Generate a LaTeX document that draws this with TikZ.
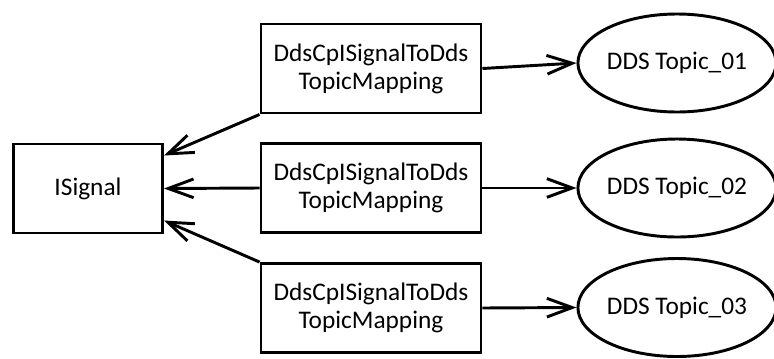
\documentclass[tikz,border=0pt]{standalone}
\usepackage{fontspec}
\setmainfont{Carlito}
\usepackage{tikz}
\usetikzlibrary{
  arrows.meta,
  positioning,
  shapes.geometric
}

\tikzset{
  mapbox/.style={draw, line width=2.2pt, minimum width=165pt, minimum height=66.75pt,
    align=center, inner sep=2pt, font=\fontsize{19}{21}\selectfont},
  sigbox/.style={draw, line width=2.2pt, minimum width=111.75pt, minimum height=66.75pt,
    font=\fontsize{19}{21}\selectfont},
  topic/.style={draw, ellipse, line width=2.2pt, minimum width=144pt, minimum height=73.5pt,
    inner sep=0pt, font=\fontsize{19}{21}\selectfont},
  link/.style={line width=2.2pt, -{Straight Barb[length=19pt, width=14pt, line width=2.2pt]}}
}

\begin{document}
\begin{tikzpicture}[x=0.75pt, y=-0.75pt]
  \useasboundingbox (0,0) rectangle (774,358);
  % signal on the left
  \node[sigbox] (isig) at (88,188.5) {ISignal};
  % the three mappings
  \node[mapbox] (map1) at (371,68.5) {DdsCpISignalToDds\\TopicMapping};
  \node[mapbox] (map2) at (371,188) {DdsCpISignalToDds\\TopicMapping};
  \node[mapbox] (map3) at (371,308) {DdsCpISignalToDds\\TopicMapping};
  % topics
  \node[topic] (dds1) at (677,63) {DDS Topic\_01};
  \node[topic] (dds2) at (677,188) {DDS Topic\_02};
  \node[topic] (dds3) at (677,307.5) {DDS Topic\_03};

  \draw[link] (map1.south west) -- ([yshift=24.75pt]isig.east);
  \draw[link] (map2.west) -- (isig.east);
  \draw[link] (map3.north west) -- ([yshift=-24pt]isig.east);
  \draw[link] (map1.east) -- (dds1.west);
  \draw[link] (map2.east) -- (dds2.west);
  \draw[link] (map3.east) -- (dds3.west);
\end{tikzpicture}
\end{document}
